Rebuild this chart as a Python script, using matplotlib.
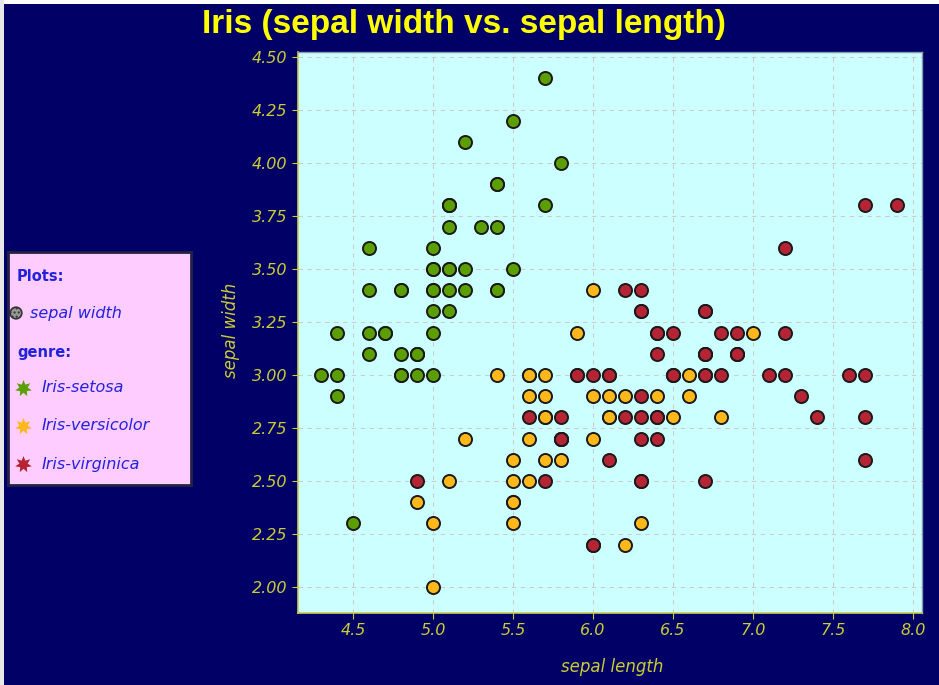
import matplotlib.pyplot as plt
import matplotlib.patches as mpatches
import numpy as np

# iris: sepal length / sepal width per genre
setosa_len = [5.1, 4.9, 4.7, 4.6, 5.0, 5.4, 4.6, 5.0, 4.4, 4.9, 5.4, 4.8, 4.8, 4.3, 5.8, 5.7, 5.4,
              5.1, 5.7, 5.1, 5.4, 5.1, 4.6, 5.1, 4.8, 5.0, 5.0, 5.2, 5.2, 4.7, 4.8, 5.4, 5.2, 5.5,
              4.9, 5.0, 5.5, 4.9, 4.4, 5.1, 5.0, 4.5, 4.4, 5.0, 5.1, 4.8, 5.1, 4.6, 5.3, 5.0]
setosa_wid = [3.5, 3.0, 3.2, 3.1, 3.6, 3.9, 3.4, 3.4, 2.9, 3.1, 3.7, 3.4, 3.0, 3.0, 4.0, 4.4, 3.9,
              3.5, 3.8, 3.8, 3.4, 3.7, 3.6, 3.3, 3.4, 3.0, 3.4, 3.5, 3.4, 3.2, 3.1, 3.4, 4.1, 4.2,
              3.1, 3.2, 3.5, 3.1, 3.0, 3.4, 3.5, 2.3, 3.2, 3.5, 3.8, 3.0, 3.8, 3.2, 3.7, 3.3]

versicolor_len = [7.0, 6.4, 6.9, 5.5, 6.5, 5.7, 6.3, 4.9, 6.6, 5.2, 5.0, 5.9, 6.0, 6.1, 5.6, 6.7, 5.6,
                  5.8, 6.2, 5.6, 5.9, 6.1, 6.3, 6.1, 6.4, 6.6, 6.8, 6.7, 6.0, 5.7, 5.5, 5.5, 5.8, 6.0,
                  5.4, 6.0, 6.7, 6.3, 5.6, 5.5, 5.5, 6.1, 5.8, 5.0, 5.6, 5.7, 5.7, 6.2, 5.1, 5.7]
versicolor_wid = [3.2, 3.2, 3.1, 2.3, 2.8, 2.8, 3.3, 2.4, 2.9, 2.7, 2.0, 3.0, 2.2, 2.9, 2.9, 3.1, 3.0,
                  2.7, 2.2, 2.5, 3.2, 2.8, 2.5, 2.8, 2.9, 3.0, 2.8, 3.0, 2.9, 2.6, 2.4, 2.4, 2.7, 2.7,
                  3.0, 3.4, 3.1, 2.3, 3.0, 2.5, 2.6, 3.0, 2.6, 2.3, 2.7, 3.0, 2.9, 2.9, 2.5, 2.8]

virginica_len = [6.3, 5.8, 7.1, 6.3, 6.5, 7.6, 4.9, 7.3, 6.7, 7.2, 6.5, 6.4, 6.8, 5.7, 5.8, 6.4, 6.5,
                 7.7, 7.7, 6.0, 6.9, 5.6, 7.7, 6.3, 6.7, 7.2, 6.2, 6.1, 6.4, 7.2, 7.4, 7.9, 6.4, 6.3,
                 6.1, 7.7, 6.3, 6.4, 6.0, 6.9, 6.7, 6.9, 5.8, 6.8, 6.7, 6.7, 6.3, 6.5, 6.2, 5.9]
virginica_wid = [3.3, 2.7, 3.0, 2.9, 3.0, 3.0, 2.5, 2.9, 2.5, 3.6, 3.2, 2.7, 3.0, 2.5, 2.8, 3.2, 3.0,
                 3.8, 2.6, 2.2, 3.2, 2.8, 2.8, 2.7, 3.3, 3.2, 2.8, 3.0, 2.8, 3.0, 2.8, 3.8, 2.8, 2.8,
                 2.6, 3.0, 3.4, 3.1, 3.0, 3.1, 3.1, 3.1, 2.7, 3.2, 3.3, 3.0, 2.5, 3.0, 3.4, 3.0]

genres = ['Iris-setosa', 'Iris-versicolor', 'Iris-virginica']
colors = ['#5a9e00', '#ffb81c', '#b42434']
x_ticks = [4.5, 5.0, 5.5, 6.0, 6.5, 7.0, 7.5, 8.0]
y_ticks = [2.00, 2.25, 2.50, 2.75, 3.00, 3.25, 3.50, 3.75, 4.00, 4.25, 4.50]

navy = '#000066'
tick_col = '#cccc33'
text_blue = '#2222dd'

W, H = 939, 685
fig = plt.figure(figsize=(W / 100, H / 100), dpi=100, facecolor=navy)

# thin white strips along the top and left edges
fig.patches.append(mpatches.Rectangle((0, 1 - 4 / H), 1, 4 / H, transform=fig.transFigure,
                                      facecolor='white', edgecolor='none', zorder=-10))
fig.patches.append(mpatches.Rectangle((0, 0), 4 / W, 1, transform=fig.transFigure,
                                      facecolor='#e8e8e8', edgecolor='none', zorder=-10))

def px_axes(x0, y0, x1, y1):
    return fig.add_axes([x0 / W, 1 - y1 / H, (x1 - x0) / W, (y1 - y0) / H])

ax = px_axes(298, 52, 922, 613)
ax.set_facecolor('#ccffff')
ax.set_xlim(4.156, 8.056)
ax.set_ylim(1.877, 4.524)

series = [(setosa_len, setosa_wid), (versicolor_len, versicolor_wid), (virginica_len, virginica_wid)]
for (xs, ys), c in zip(series, colors):
    ax.scatter(xs, ys, s=88, color=c, edgecolor='#1a1a1a', linewidth=1.4, zorder=3)

ax.set_xticks(x_ticks)
ax.set_xticklabels(['%.1f' % v for v in x_ticks])
ax.set_yticks(y_ticks)
ax.set_yticklabels(['%.2f' % v for v in y_ticks])
ax.grid(color='#cccccc', linestyle=(0, (4, 4)), linewidth=0.8)
ax.set_axisbelow(True)
ax.tick_params(colors=tick_col, labelcolor=tick_col, labelsize=11.5, length=4, width=0.8)
for lbl in ax.get_xticklabels() + ax.get_yticklabels():
    lbl.set_fontstyle('italic')
for side in ['left', 'bottom']:
    ax.spines[side].set_color('#cccc55')
    ax.spines[side].set_linewidth(1.2)
for side in ['top', 'right']:
    ax.spines[side].set_color('#8899aa')
    ax.spines[side].set_linewidth(1.0)

fig.text(612 / W, 1 - 667 / H, 'sepal length', color=tick_col, fontsize=12,
         fontstyle='italic', ha='center', va='center')
fig.text(231 / W, 1 - 330 / H, 'sepal width', color=tick_col, fontsize=12,
         fontstyle='italic', ha='center', va='center', rotation=90)
fig.text(464 / W, 1 - 25 / H, 'Iris (sepal width vs. sepal length)', color='#ffff00',
         fontsize=24, fontweight='bold', family='Liberation Sans', ha='center', va='center')

# legend panel in pixel coordinates
lg = px_axes(8, 252, 191, 485)
lg.set_xlim(0, 183)
lg.set_ylim(233, 0)
lg.set_facecolor('#ffccff')
lg.set_xticks([])
lg.set_yticks([])
for sp in lg.spines.values():
    sp.set_color('#222244')
    sp.set_linewidth(2)

lg.text(9, 24, 'Plots:', color=text_blue, fontsize=10.5, fontweight='bold', va='center')
lg.scatter([8], [61], s=70, facecolor='#999999', edgecolor='#333333', linewidth=1.2, hatch='....')
lg.text(22, 61, 'sepal width', color=text_blue, fontsize=11.5, fontstyle='italic', va='center')
lg.text(9, 100, 'genre:', color=text_blue, fontsize=10.5, fontweight='bold', va='center')
for i, (g, c) in enumerate(zip(genres, colors)):
    yy = 136 + i * 38
    lg.scatter([15], [yy], s=150, marker=(7, 1, 0), color=c, linewidth=0)
    lg.text(34, yy, g, color=text_blue, fontsize=11.5, fontstyle='italic', va='center')

fig.savefig('out.png', dpi=100, facecolor=fig.get_facecolor())
